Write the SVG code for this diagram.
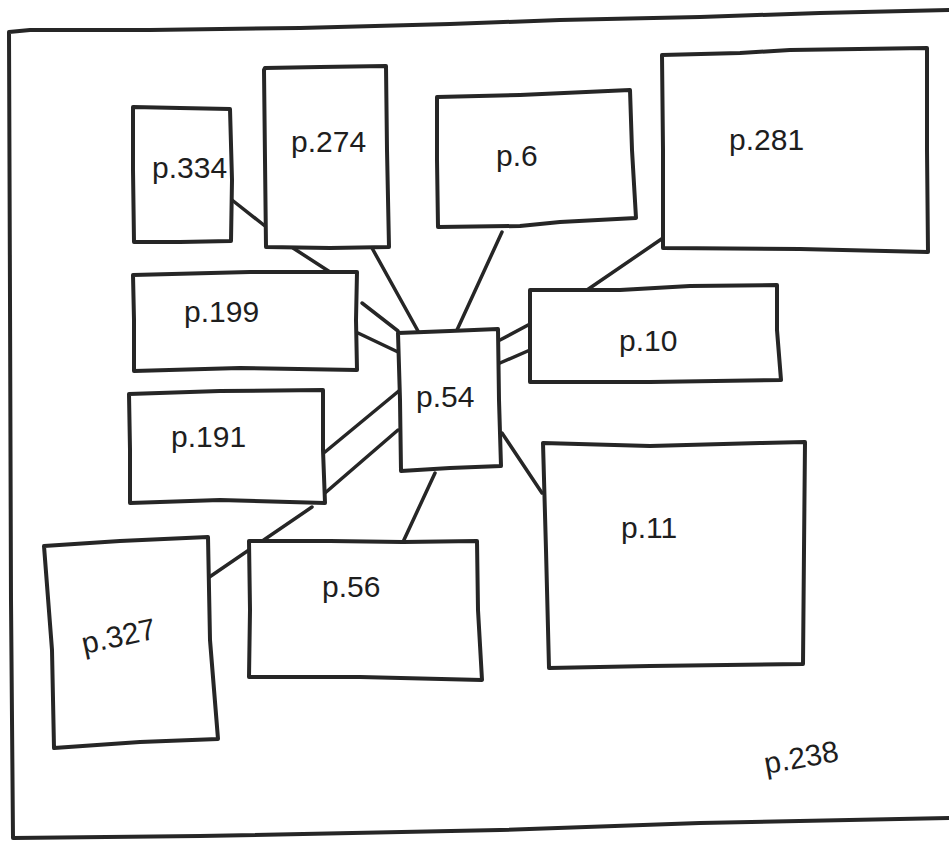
<svg xmlns="http://www.w3.org/2000/svg" width="949" height="843" viewBox="0 0 949 843">
<style>
.b{fill:#fff;stroke:#262626;stroke-width:4;stroke-linejoin:round;stroke-linecap:round}
.o{fill:none;stroke:#262626;stroke-width:4;stroke-linejoin:round;stroke-linecap:round}
.c{stroke:#262626;stroke-width:3.5;stroke-linecap:round;fill:none}
.t{font-family:"Liberation Sans","DejaVu Sans",sans-serif;font-size:30px;fill:#1e1e1e}
</style>
<rect width="949" height="843" fill="#fff"/>
<g id="frame">
<path class="o" d="M949,10 L820,13 L700,17 L560,20 L450,24 L300,28 L150,30 L30,30 L9,32 L10,300 L11,600 L13,838 L200,836 L500,830 L700,823 L949,818"/>
<text class="t" x="766" y="774" transform="rotate(-10 766 774)">p.238</text>
</g>
<g id="connectors">
<line class="c" x1="232" y1="200" x2="265" y2="226"/>
<line class="c" x1="293" y1="248" x2="330" y2="272"/>
<line class="c" x1="372" y1="248" x2="418" y2="331"/>
<line class="c" x1="502" y1="232" x2="457" y2="330"/>
<line class="c" x1="362" y1="303" x2="398" y2="331"/>
<line class="c" x1="358" y1="333" x2="398" y2="352"/>
<line class="c" x1="663" y1="238" x2="587" y2="290"/>
<line class="c" x1="500" y1="340" x2="530" y2="324"/>
<line class="c" x1="500" y1="363" x2="530" y2="350"/>
<line class="c" x1="502" y1="433" x2="542" y2="493"/>
<line class="c" x1="325" y1="452" x2="400" y2="390"/>
<line class="c" x1="325" y1="493" x2="398" y2="430"/>
<line class="c" x1="208" y1="578" x2="312" y2="507"/>
<line class="c" x1="435" y1="473" x2="403" y2="542"/>
</g>
<g id="n334">
<path class="b" d="M133,107 L180,108 L230,109 L232,180 L231,241 L180,242 L134,242 L133,170 Z"/>
<text class="t" x="152" y="178">p.334</text>
</g>
<g id="n274">
<path class="b" d="M264,70 L265,68 L320,67 L386,66 L387,150 L389,247 L330,248 L266,247 L265,160 Z"/>
<text class="t" x="291" y="152">p.274</text>
</g>
<g id="n6">
<path class="b" d="M437,97 L520,95 L630,90 L632,150 L636,218 L560,222 L520,226 L438,227 L437,160 Z"/>
<text class="t" x="496" y="166">p.6</text>
</g>
<g id="n281">
<path class="b" d="M662,55 L740,53 L790,50 L927,48 L927,150 L928,252 L800,249 L663,248 L663,150 Z"/>
<text class="t" x="729" y="150">p.281</text>
</g>
<g id="n199">
<path class="b" d="M133,275 L250,272 L357,272 L356,320 L357,370 L240,368 L134,371 L134,320 Z"/>
<text class="t" x="184" y="322">p.199</text>
</g>
<g id="n54">
<path class="b" d="M398,333 L450,331 L498,329 L499,400 L501,466 L450,468 L401,471 L400,400 Z"/>
<text class="t" x="416" y="407">p.54</text>
</g>
<g id="n10">
<path class="b" d="M530,290 L620,290 L690,286 L777,285 L777,330 L781,380 L650,382 L530,382 L530,340 Z"/>
<text class="t" x="619" y="351">p.10</text>
</g>
<g id="n191">
<path class="b" d="M129,394 L220,391 L323,390 L323,450 L325,503 L220,500 L130,503 L130,450 Z"/>
<text class="t" x="171" y="447">p.191</text>
</g>
<g id="n11">
<path class="b" d="M543,443 L650,446 L760,443 L805,442 L804,550 L803,664 L650,666 L549,668 L546,550 Z"/>
<text class="t" x="621" y="538">p.11</text>
</g>
<g id="n327">
<path class="b" d="M44,546 L120,541 L208,537 L210,640 L218,739 L140,742 L54,748 L52,650 Z"/>
<text class="t" x="84" y="654" transform="rotate(-12 84 654)">p.327</text>
</g>
<g id="n56">
<path class="b" d="M249,541 L330,541 L403,542 L477,541 L478,610 L482,680 L360,677 L249,677 L250,610 Z"/>
<text class="t" x="322" y="597">p.56</text>
</g>
</svg>
